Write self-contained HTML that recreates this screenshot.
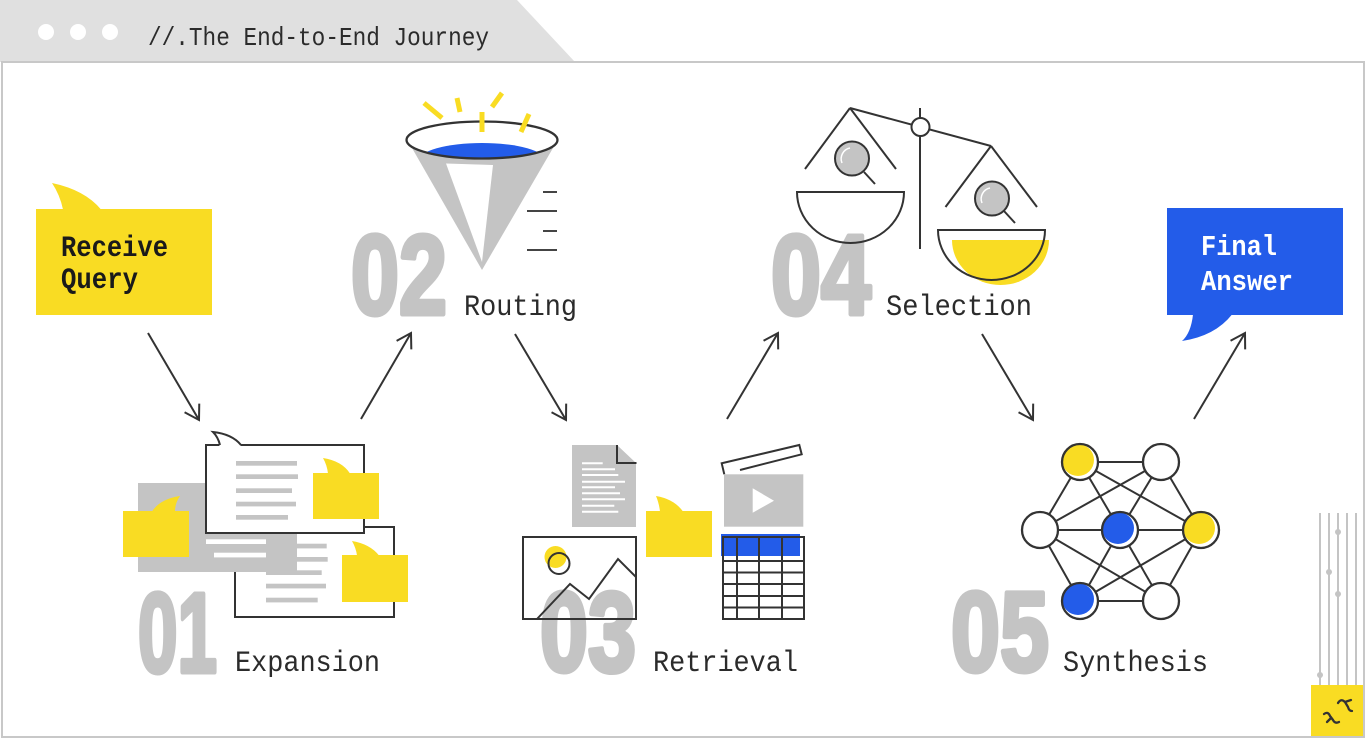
<!DOCTYPE html>
<html>
<head>
<meta charset="utf-8">
<style>
  html,body{margin:0;padding:0;background:#fff;}
  svg{display:block;}
  .mono{font-family:"Liberation Mono","DejaVu Sans Mono",monospace;}
  .num{font-family:"Liberation Sans",Arial,sans-serif;font-weight:bold;fill:#c4c4c4;stroke:#c4c4c4;stroke-width:5;stroke-linejoin:round;}
  .lbl{font-family:"Liberation Mono","DejaVu Sans Mono",monospace;font-size:30px;fill:#2b2b2b;}
</style>
</head>
<body>
<svg width="1366" height="740" viewBox="0 0 1366 740" xmlns="http://www.w3.org/2000/svg">
  <defs>
    <marker id="ah" viewBox="0 0 20 20" refX="18" refY="10" markerWidth="20" markerHeight="20" markerUnits="userSpaceOnUse" orient="auto">
      <path d="M4,1.5 L18,10 L4,18.5" fill="none" stroke="#333" stroke-width="2"/>
    </marker>
    <clipPath id="ellclip">
      <ellipse cx="482" cy="140" rx="75.5" ry="18.5"/>
    </clipPath>
  </defs>

  <!-- header tab -->
  <polygon points="0,0 517,0 575,62 0,62" fill="#e0e0e0"/>
  <circle cx="46" cy="32" r="8" fill="#fff"/>
  <circle cx="78" cy="32" r="8" fill="#fff"/>
  <circle cx="110" cy="32" r="8" fill="#fff"/>
  <text x="148" y="45" class="mono" font-size="26" fill="#2b2b2b" textLength="341" lengthAdjust="spacingAndGlyphs">//.The End-to-End Journey</text>

  <!-- frame -->
  <rect x="2" y="62" width="1362" height="675" fill="none" stroke="#c8c8c8" stroke-width="2"/>

  <!-- big numbers (behind icons) -->
  <text x="138" y="672" class="num" font-size="113" textLength="79" lengthAdjust="spacingAndGlyphs">01</text>
  <text x="351" y="314" class="num" font-size="113" textLength="96" lengthAdjust="spacingAndGlyphs">02</text>
  <text x="540" y="671" class="num" font-size="113" textLength="96" lengthAdjust="spacingAndGlyphs">03</text>
  <text x="771" y="314" class="num" font-size="113" textLength="100" lengthAdjust="spacingAndGlyphs">04</text>
  <text x="951" y="671" class="num" font-size="113" textLength="98" lengthAdjust="spacingAndGlyphs">05</text>

  <!-- Receive Query bubble -->
  <rect x="36" y="209" width="176" height="106" fill="#f9dc23"/>
  <path d="M63,209.5 Q60,195 52,183 Q85,190 101,209.5 Z" fill="#f9dc23"/>
  <text x="61" y="256" class="mono" font-size="30" font-weight="bold" fill="#1a1a1a" textLength="107" lengthAdjust="spacingAndGlyphs">Receive</text>
  <text x="61" y="288" class="mono" font-size="30" font-weight="bold" fill="#1a1a1a" textLength="77" lengthAdjust="spacingAndGlyphs">Query</text>

  <!-- Final Answer bubble -->
  <rect x="1167" y="208" width="176" height="107" fill="#235ce9"/>
  <path d="M1193,314.5 Q1191,333 1182,341 Q1215,336 1232,314.5 Z" fill="#235ce9"/>
  <text x="1201" y="255" class="mono" font-size="29" font-weight="bold" fill="#fff" textLength="76" lengthAdjust="spacingAndGlyphs">Final</text>
  <text x="1201" y="290" class="mono" font-size="29" font-weight="bold" fill="#fff" textLength="92" lengthAdjust="spacingAndGlyphs">Answer</text>

  <!-- arrows -->
  <g stroke="#333" stroke-width="2" fill="none" marker-end="url(#ah)">
    <line x1="148" y1="333" x2="199" y2="420"/>
    <line x1="361" y1="419" x2="411" y2="333"/>
    <line x1="515" y1="334" x2="566" y2="420"/>
    <line x1="727" y1="419" x2="778" y2="333"/>
    <line x1="982" y1="334" x2="1033" y2="420"/>
    <line x1="1194" y1="419" x2="1245" y2="333"/>
  </g>

  <!-- ============ 01 Expansion icon ============ -->
  <rect x="235" y="527" width="159" height="90" fill="#fff" stroke="#333" stroke-width="2"/>
  <g fill="#c4c4c4">
    <rect x="266" y="543.7" width="60.7" height="4.7"/>
    <rect x="266" y="557" width="61.7" height="4.7"/>
    <rect x="266" y="570.3" width="55.7" height="4.7"/>
    <rect x="266" y="583.7" width="60" height="4.7"/>
    <rect x="266" y="597.7" width="51.7" height="4.7"/>
  </g>
  <rect x="138" y="483" width="159" height="89" fill="#c4c4c4"/>
  <rect x="206" y="539.3" width="60" height="4.7" fill="#fff"/>
  <rect x="214" y="552.7" width="52" height="4.7" fill="#fff"/>
  <rect x="206" y="445" width="158" height="88" fill="#fff" stroke="#333" stroke-width="2"/>
  <path d="M219.5,446 Q218,437 213,432 Q232,434 241,446 Z" fill="#fff"/>
  <path d="M220,445 Q218,437 213,432 Q232,434 241,445" fill="none" stroke="#333" stroke-width="2"/>
  <g fill="#c4c4c4">
    <rect x="236" y="461" width="61" height="4.7"/>
    <rect x="236" y="474.3" width="62" height="4.7"/>
    <rect x="236" y="488.3" width="56" height="4.7"/>
    <rect x="236" y="501.7" width="60" height="4.7"/>
    <rect x="236" y="515" width="52" height="4.7"/>
  </g>
  <g fill="#f9dc23">
    <rect x="313" y="473" width="66" height="46"/>
    <path d="M328,473.5 Q327,465 323,458 Q342,461 350,473.5 Z"/>
    <rect x="123" y="511" width="66" height="46"/>
    <path d="M152,511.5 Q160,499 180,496 Q175,503 175,511.5 Z"/>
    <rect x="342" y="555" width="66" height="47"/>
    <path d="M357,555.5 Q356,548 352,541 Q370,544 379,555.5 Z"/>
  </g>

  <!-- ============ 02 Routing funnel ============ -->
  <polygon points="412,148 553,148 482,270" fill="#c4c4c4"/>
  <polygon points="446,163.5 493,165 482,262" fill="#fff"/>
  <ellipse cx="482" cy="140" rx="75.5" ry="18.5" fill="#fff"/>
  <ellipse cx="482" cy="161" rx="64" ry="18" fill="#235ce9" clip-path="url(#ellclip)"/>
  <ellipse cx="482" cy="140" rx="75.5" ry="18.5" fill="none" stroke="#333" stroke-width="2.3"/>
  <g stroke="#f9dc23" stroke-width="5" fill="none">
    <line x1="424" y1="103" x2="442" y2="118"/>
    <line x1="457" y1="98" x2="460" y2="112"/>
    <line x1="482" y1="112" x2="482" y2="132"/>
    <line x1="502" y1="93" x2="492" y2="107"/>
    <line x1="529" y1="114" x2="521" y2="132"/>
  </g>
  <g stroke="#444" stroke-width="2">
    <line x1="543" y1="192" x2="557" y2="192"/>
    <line x1="527" y1="211" x2="557" y2="211"/>
    <line x1="543" y1="231" x2="557" y2="231"/>
    <line x1="527" y1="250" x2="557" y2="250"/>
  </g>

  <!-- ============ 03 Retrieval ============ -->
  <polygon points="572,445 617,445 636,463 636,527 572,527" fill="#c4c4c4"/>
  <polyline points="617,445 617,463 636.5,463" fill="none" stroke="#333" stroke-width="2"/>
  <g stroke="#fff" stroke-width="2">
    <line x1="582" y1="463.3" x2="602.7" y2="463.3"/>
    <line x1="582" y1="469.3" x2="615" y2="469.3"/>
    <line x1="582" y1="475" x2="618.3" y2="475"/>
    <line x1="582" y1="481.7" x2="625" y2="481.7"/>
    <line x1="582" y1="487.3" x2="615" y2="487.3"/>
    <line x1="582" y1="493.3" x2="620" y2="493.3"/>
    <line x1="582" y1="499.3" x2="625" y2="499.3"/>
    <line x1="582" y1="505.7" x2="614.3" y2="505.7"/>
    <line x1="582" y1="511.7" x2="618.3" y2="511.7"/>
  </g>
  <rect x="646" y="511" width="66" height="46" fill="#f9dc23"/>
  <path d="M660,511.5 Q659,503 656,496 Q674,499 683,511.5 Z" fill="#f9dc23"/>
  <polyline points="724.3,474.3 721.7,463.3 799.3,445 801.7,454.3 740,470" fill="none" stroke="#333" stroke-width="2"/>
  <rect x="724" y="474.3" width="79.3" height="52.4" fill="#c4c4c4"/>
  <polygon points="752.7,488.3 752.7,512.7 774,500.7" fill="#fff"/>
  <rect x="721" y="534" width="79" height="22" fill="#235ce9"/>
  <g stroke="#333" stroke-width="2" fill="none">
    <rect x="723" y="537" width="81" height="82"/>
    <line x1="737" y1="537" x2="737" y2="619"/>
    <line x1="759" y1="537" x2="759" y2="619"/>
    <line x1="782" y1="537" x2="782" y2="619"/>
    <line x1="723" y1="561" x2="804" y2="561"/>
    <line x1="723" y1="572.5" x2="804" y2="572.5"/>
    <line x1="723" y1="584" x2="804" y2="584"/>
    <line x1="723" y1="596" x2="804" y2="596"/>
    <line x1="723" y1="607.5" x2="804" y2="607.5"/>
  </g>
  <circle cx="555.5" cy="557" r="11" fill="#f9dc23"/>
  <circle cx="559" cy="563.5" r="10.5" fill="none" stroke="#333" stroke-width="2"/>
  <rect x="523" y="537" width="113" height="82" fill="none" stroke="#333" stroke-width="2"/>
  <polyline points="537,619 570,584 589,599 618,559 636,577" fill="none" stroke="#333" stroke-width="2"/>

  <!-- ============ 04 Selection scale ============ -->
  <g stroke="#333" stroke-width="2" fill="none">
    <line x1="920" y1="108" x2="920" y2="249"/>
    <line x1="850" y1="108" x2="991" y2="146"/>
    <line x1="850" y1="108" x2="805" y2="169"/>
    <line x1="850" y1="108" x2="896" y2="169"/>
    <line x1="991" y1="146" x2="945.5" y2="207"/>
    <line x1="991" y1="146" x2="1037" y2="207"/>
  </g>
  <circle cx="920.5" cy="127" r="9" fill="#fff" stroke="#333" stroke-width="2"/>
  <g stroke="#333" stroke-width="2">
    <line x1="864" y1="172" x2="875" y2="184"/>
    <circle cx="852" cy="158.5" r="17" fill="#c4c4c4"/>
    <line x1="1004" y1="211" x2="1015" y2="223"/>
    <circle cx="992" cy="198.5" r="17" fill="#c4c4c4"/>
  </g>
  <path d="M842,163 A11,11 0 0 1 850,148" fill="none" stroke="#fff" stroke-width="1.5"/>
  <path d="M982,203 A11,11 0 0 1 990,188" fill="none" stroke="#fff" stroke-width="1.5"/>
  <path d="M797,192 L904,192 A53.5,51 0 0 1 797,192 Z" fill="none" stroke="#333" stroke-width="2"/>
  <path d="M952,240 L1049,240 A48.5,45 0 0 1 952,240 Z" fill="#f9dc23"/>
  <path d="M938,230 L1045,230 A53.5,50 0 0 1 938,230 Z" fill="none" stroke="#333" stroke-width="2"/>

  <!-- ============ 05 Synthesis network ============ -->
  <g stroke="#333" stroke-width="2">
    <line x1="1080" y1="462" x2="1161" y2="462"/>
    <line x1="1080" y1="462" x2="1120" y2="530"/>
    <line x1="1080" y1="462" x2="1201" y2="530"/>
    <line x1="1080" y1="462" x2="1040" y2="530"/>
    <line x1="1161" y1="462" x2="1040" y2="530"/>
    <line x1="1161" y1="462" x2="1120" y2="530"/>
    <line x1="1161" y1="462" x2="1201" y2="530"/>
    <line x1="1040" y1="530" x2="1201" y2="530"/>
    <line x1="1040" y1="530" x2="1080" y2="601"/>
    <line x1="1040" y1="530" x2="1161" y2="601"/>
    <line x1="1120" y1="530" x2="1080" y2="601"/>
    <line x1="1120" y1="530" x2="1161" y2="601"/>
    <line x1="1201" y1="530" x2="1080" y2="601"/>
    <line x1="1201" y1="530" x2="1161" y2="601"/>
    <line x1="1080" y1="601" x2="1161" y2="601"/>
  </g>
  <g fill="#fff">
    <circle cx="1080" cy="462" r="18"/>
    <circle cx="1161" cy="462" r="18"/>
    <circle cx="1040" cy="530" r="18"/>
    <circle cx="1120" cy="530" r="18"/>
    <circle cx="1201" cy="530" r="18"/>
    <circle cx="1080" cy="601" r="18"/>
    <circle cx="1161" cy="601" r="18"/>
  </g>
  <circle cx="1078" cy="460" r="16" fill="#f9dc23"/>
  <circle cx="1118" cy="528" r="16" fill="#235ce9"/>
  <circle cx="1199" cy="528" r="16" fill="#f9dc23"/>
  <circle cx="1078" cy="599" r="16" fill="#235ce9"/>
  <g fill="none" stroke="#333" stroke-width="2.3">
    <circle cx="1080" cy="462" r="18"/>
    <circle cx="1161" cy="462" r="18"/>
    <circle cx="1040" cy="530" r="18"/>
    <circle cx="1120" cy="530" r="18"/>
    <circle cx="1201" cy="530" r="18"/>
    <circle cx="1080" cy="601" r="18"/>
    <circle cx="1161" cy="601" r="18"/>
  </g>

  <!-- labels -->
  <text x="235" y="671" class="lbl" textLength="145" lengthAdjust="spacingAndGlyphs">Expansion</text>
  <text x="464" y="315" class="lbl" textLength="113" lengthAdjust="spacingAndGlyphs">Routing</text>
  <text x="653" y="671" class="lbl" textLength="145" lengthAdjust="spacingAndGlyphs">Retrieval</text>
  <text x="886" y="315" class="lbl" textLength="146" lengthAdjust="spacingAndGlyphs">Selection</text>
  <text x="1063" y="671" class="lbl" textLength="145" lengthAdjust="spacingAndGlyphs">Synthesis</text>

  <!-- bottom-right decoration -->
  <g stroke="#c4c4c4" stroke-width="2">
    <line x1="1320" y1="513" x2="1320" y2="685"/>
    <line x1="1329" y1="513" x2="1329" y2="685"/>
    <line x1="1338" y1="513" x2="1338" y2="685"/>
    <line x1="1347" y1="513" x2="1347" y2="685"/>
    <line x1="1356" y1="513" x2="1356" y2="685"/>
  </g>
  <g fill="#c4c4c4">
    <circle cx="1338" cy="532" r="3"/>
    <circle cx="1329" cy="572" r="3"/>
    <circle cx="1338" cy="594" r="3"/>
    <circle cx="1320" cy="675" r="3"/>
  </g>
  <rect x="1311" y="685" width="52" height="51" fill="#f9dc23"/>
  <g fill="none" stroke="#333" stroke-width="2.3" stroke-linecap="round" stroke-linejoin="round">
    <path d="M1338,703 Q1341,698 1345,702 L1348,707 Q1349,711 1352,711 M1345,702 L1351,700"/>
    <path d="M1324,714 Q1328,711 1330,716 L1333,720 Q1335,724 1339,722 M1331,718 L1327,722"/>
  </g>
</svg>
</body>
</html>
